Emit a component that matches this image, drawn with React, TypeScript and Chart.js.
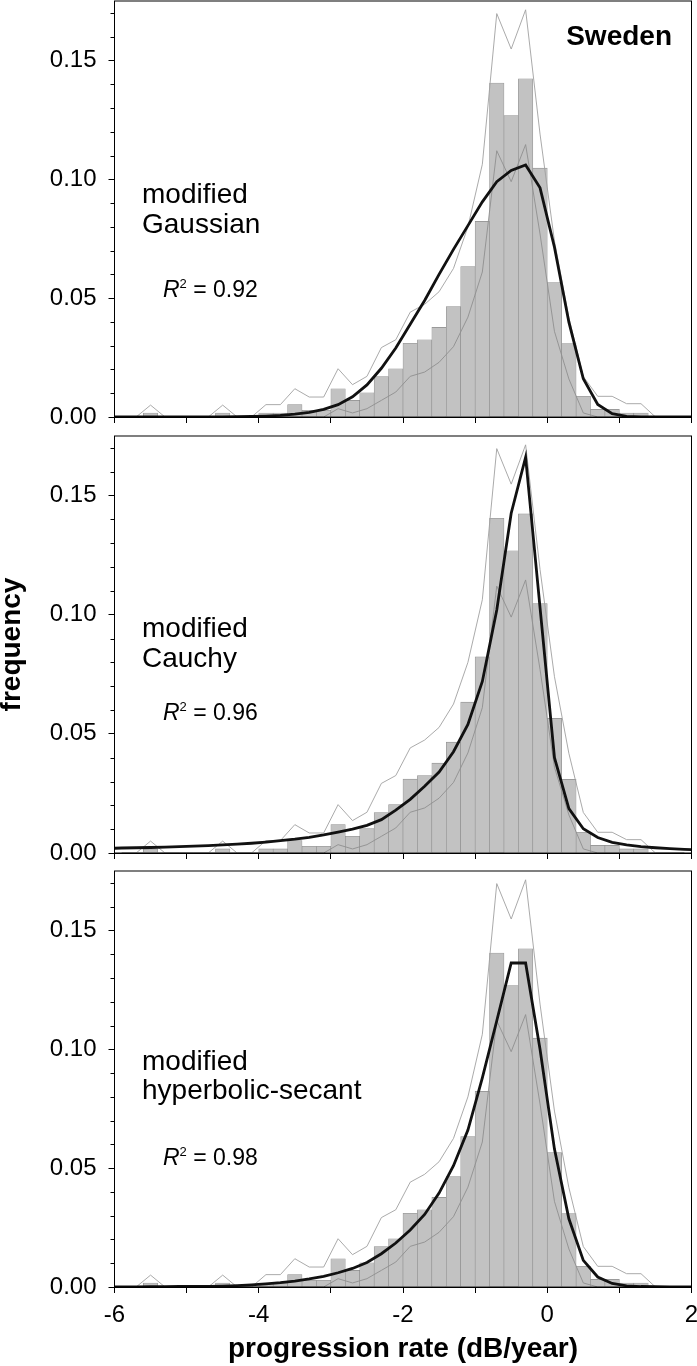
import React, { useEffect, useRef } from 'react';
import { Chart, registerables } from 'chart.js';

Chart.register(...registerables);

// ---------- data ----------
const binCenters = [
  -5.9, -5.7, -5.5, -5.3, -5.1, -4.9, -4.7, -4.5, -4.3, -4.1,
  -3.9, -3.7, -3.5, -3.3, -3.1, -2.9, -2.7, -2.5, -2.3, -2.1,
  -1.9, -1.7, -1.5, -1.3, -1.1, -0.9, -0.7, -0.5, -0.3, -0.1,
  0.1, 0.3, 0.5, 0.7, 0.9, 1.1, 1.3, 1.5, 1.7, 1.9,
];

const frequency = [
  0, 0, 0.0017, 0, 0, 0, 0, 0.0017, 0, 0,
  0.0017, 0.0017, 0.0052, 0.0028, 0.0028, 0.0119, 0.007, 0.0102, 0.017, 0.0203,
  0.031, 0.0325, 0.0377, 0.0465, 0.0633, 0.0823, 0.1405, 0.1268, 0.1423, 0.1047,
  0.0565, 0.0309, 0.0087, 0.0032, 0.0032, 0.0017, 0.0017, 0, 0, 0,
];

const upperBound = [
  0, 0, 0.005, 0, 0, 0, 0, 0.005, 0, 0,
  0.0052, 0.0052, 0.0119, 0.0084, 0.0084, 0.0203, 0.0136, 0.0171, 0.0292, 0.0325,
  0.0441, 0.0474, 0.0527, 0.0625, 0.08, 0.1063, 0.1697, 0.1548, 0.1713, 0.119,
  0.074, 0.0418, 0.017, 0.0087, 0.0087, 0.0056, 0.0056, 0, 0, 0,
];

const lowerBound = [
  0, 0, 0, 0, 0, 0, 0, 0, 0, 0,
  0, 0, 0, 0, 0, 0.0035, 0.0017, 0.0035, 0.007, 0.0105,
  0.0171, 0.0189, 0.023, 0.0296, 0.042, 0.061, 0.112, 0.099, 0.1146, 0.077,
  0.036, 0.016, 0.0017, 0, 0, 0, 0, 0, 0, 0,
];

const fitX = [
  -6, -5.9, -5.7, -5.5, -5.3, -5.1, -4.9, -4.7, -4.5, -4.3,
  -4.1, -3.9, -3.7, -3.5, -3.3, -3.1, -2.9, -2.7, -2.5, -2.3,
  -2.1, -1.9, -1.7, -1.5, -1.3, -1.1, -0.9, -0.7, -0.5, -0.3,
  -0.1, 0.1, 0.3, 0.5, 0.7, 0.9, 1.1, 1.3, 1.5, 1.7,
  1.9, 2,
];

const fitGaussian = [
  0, 0, 0, 0, 0, 0, 0, 0, 0, 0.0001,
  0.0002, 0.0004, 0.0007, 0.0012, 0.0019, 0.0032, 0.0052, 0.0085, 0.0135, 0.0205,
  0.029, 0.039, 0.049, 0.06, 0.0705, 0.0805, 0.0905, 0.099, 0.1037, 0.106,
  0.0964, 0.0714, 0.0399, 0.0161, 0.0053, 0.0014, 0.0003, 0, 0, 0,
  0, 0,
];

const fitCauchy = [
  0.002, 0.0021, 0.0022, 0.0023, 0.0025, 0.0027, 0.0029, 0.0031, 0.0034, 0.0037,
  0.0041, 0.0046, 0.0052, 0.0058, 0.0066, 0.0076, 0.0088, 0.01, 0.0116, 0.014,
  0.018, 0.0225, 0.028, 0.034, 0.0425, 0.054, 0.072, 0.102, 0.1426, 0.1661,
  0.103, 0.04, 0.0186, 0.0102, 0.0065, 0.0045, 0.0034, 0.0027, 0.0022, 0.0018,
  0.0015, 0.0014,
];

const fitHypSecant = [
  0, 0, 0, 0.0001, 0.0001, 0.0002, 0.0002, 0.0003, 0.0004, 0.0006,
  0.0009, 0.0013, 0.0018, 0.0025, 0.0034, 0.0045, 0.006, 0.0078, 0.0103, 0.014,
  0.0185, 0.024, 0.0305, 0.0395, 0.051, 0.066, 0.088, 0.112, 0.1363, 0.1363,
  0.1, 0.058, 0.0287, 0.0112, 0.0042, 0.0015, 0.0005, 0.0002, 0.0001, 0,
  0, 0,
];

const modelNames = [
  ['modified', 'Gaussian'],
  ['modified', 'Cauchy'],
  ['modified', 'hyperbolic-secant'],
];
const rSquared = ['0.92', '0.96', '0.98'];
const countryLabel = 'Sweden';
const yAxisTitle = 'frequency';
const xAxisTitle = 'progression rate (dB/year)';

// ---------- styling / layout ----------
const FONT = '"Liberation Sans", Arial, Helvetica, sans-serif';
const PAGE_W = 697;

type Seg = { text: string; font: string; dy?: number };
type Label = { x: number; y: number; segs: Seg[]; align?: 'left' | 'right' };

const panels = [
  { top: 0, height: 430, areaTop: 1, areaBottom: 417, fit: fitGaussian, textY: [203, 233, 297], sweden: true, xLabels: false, yTitle: false },
  { top: 430, height: 435, areaTop: 436, areaBottom: 853, fit: fitCauchy, textY: [637, 667, 720], sweden: false, xLabels: false, yTitle: true },
  { top: 865, height: 501, areaTop: 871, areaBottom: 1287, fit: fitHypSecant, textY: [1070, 1099, 1165], sweden: false, xLabels: true, yTitle: false },
];

function decorPlugin(labels: Label[]) {
  return {
    id: 'panelDecor',
    afterDraw(chart: any) {
      const { ctx, chartArea } = chart;
      const ys = chart.scales.y;
      ctx.save();
      // minor y ticks
      ctx.strokeStyle = '#000';
      ctx.lineWidth = 1;
      for (let i = 1; i <= 17; i++) {
        if (i % 5 === 0) continue;
        const py = Math.round(ys.getPixelForValue(i / 100)) + 0.5;
        ctx.beginPath();
        ctx.moveTo(chartArea.left - 4, py);
        ctx.lineTo(chartArea.left, py);
        ctx.stroke();
      }
      // frame
      ctx.strokeRect(chartArea.left, chartArea.top, chartArea.right - chartArea.left, chartArea.bottom - chartArea.top);
      // texts
      ctx.fillStyle = '#000';
      ctx.textBaseline = 'alphabetic';
      ctx.textAlign = 'left';
      for (const lab of labels) {
        let total = 0;
        for (const s of lab.segs) {
          ctx.font = s.font;
          total += ctx.measureText(s.text).width;
        }
        let cx = lab.align === 'right' ? lab.x - total : lab.x;
        for (const s of lab.segs) {
          ctx.font = s.font;
          ctx.fillText(s.text, cx, lab.y + (s.dy || 0));
          cx += ctx.measureText(s.text).width;
        }
      }
      ctx.restore();
    },
  };
}

function buildChart(canvas: HTMLCanvasElement, idx: number) {
  const p = panels[idx];
  const nameFont = `28px ${FONT}`;
  const labels: Label[] = [
    { x: 142, y: p.textY[0] - p.top, segs: [{ text: modelNames[idx][0], font: nameFont }] },
    { x: 142, y: p.textY[1] - p.top, segs: [{ text: modelNames[idx][1], font: nameFont }] },
    {
      x: 163,
      y: p.textY[2] - p.top,
      segs: [
        { text: 'R', font: `italic 23px ${FONT}` },
        { text: '2', font: `13px ${FONT}`, dy: -9 },
        { text: ' = ' + rSquared[idx], font: `23px ${FONT}` },
      ],
    },
  ];
  if (p.sweden) {
    labels.push({ x: 672, y: 45 - p.top, align: 'right', segs: [{ text: countryLabel, font: `bold 28px ${FONT}` }] });
  }

  const xHeight = p.top + p.height - p.areaBottom;
  const tickFont = { family: FONT, size: 24 };

  return new Chart(canvas, {
    type: 'bar',
    data: {
      datasets: [
        {
          type: 'line',
          data: fitX.map((x, i) => ({ x, y: p.fit[i] })),
          borderColor: '#111111',
          borderWidth: 2.8,
          pointRadius: 0,
          tension: 0,
          fill: false,
          order: 1,
        },
        {
          type: 'line',
          data: binCenters.map((x, i) => ({ x, y: upperBound[i] })),
          borderColor: '#a0a0a0',
          borderWidth: 0.9,
          pointRadius: 0,
          tension: 0,
          fill: false,
          order: 2,
        },
        {
          type: 'line',
          data: binCenters.map((x, i) => ({ x, y: lowerBound[i] })),
          borderColor: '#8e8e8e',
          borderWidth: 0.9,
          pointRadius: 0,
          tension: 0,
          fill: false,
          order: 2,
        },
        {
          type: 'bar',
          data: binCenters.map((x, i) => ({ x, y: frequency[i] })),
          backgroundColor: '#c2c2c2',
          borderColor: '#8c8c8c',
          borderWidth: 0.6,
          barPercentage: 1,
          categoryPercentage: 1,
          order: 3,
        },
      ] as any,
    },
    options: {
      responsive: false,
      maintainAspectRatio: false,
      animation: false,
      events: [],
      devicePixelRatio: 1,
      layout: { padding: { left: 0, right: PAGE_W - 691.5, top: p.areaTop - p.top, bottom: 0 } },
      plugins: { legend: { display: false }, tooltip: { enabled: false }, title: { display: false } },
      scales: {
        x: {
          type: 'linear',
          min: -6,
          max: 2,
          offset: false,
          afterFit: (s: any) => {
            s.height = xHeight;
            s.paddingLeft = 0;
            s.paddingRight = 0;
          },
          ticks: {
            stepSize: 1,
            autoSkip: false,
            maxRotation: 0,
            minRotation: 0,
            padding: 8,
            color: '#000',
            font: tickFont,
            callback: (v: any) => (p.xLabels && Number(v) % 2 === 0 ? String(v) : ''),
          },
          grid: { drawOnChartArea: false, drawTicks: true, tickLength: 6, color: '#000', tickColor: '#000', offset: false },
          border: { display: true, color: '#000', width: 1 },
          title: p.xLabels
            ? { display: true, text: xAxisTitle, color: '#000', font: { family: FONT, size: 28, weight: 'bold' }, padding: { top: 0, bottom: 0 } }
            : { display: false },
        },
        y: {
          type: 'linear',
          min: 0,
          max: 0.175,
          afterFit: (s: any) => {
            s.width = 114.5;
            s.paddingTop = 0;
            s.paddingBottom = 0;
          },
          ticks: {
            stepSize: 0.05,
            includeBounds: false,
            padding: 12,
            color: '#000',
            font: tickFont,
            callback: (v: any) => Number(v).toFixed(2),
          },
          grid: { drawOnChartArea: false, drawTicks: true, tickLength: 6, color: '#000', tickColor: '#000' },
          border: { display: true, color: '#000', width: 1 },
          title: p.yTitle
            ? { display: true, text: yAxisTitle, color: '#000', font: { family: FONT, size: 28, weight: 'bold', lineHeight: 0.9 }, padding: 0 }
            : { display: false },
        },
      },
    } as any,
    plugins: [decorPlugin(labels)],
  });
}

export default function App() {
  const r0 = useRef<HTMLCanvasElement>(null);
  const r1 = useRef<HTMLCanvasElement>(null);
  const r2 = useRef<HTMLCanvasElement>(null);

  useEffect(() => {
    const refs = [r0, r1, r2];
    const charts = refs.map((r, i) => buildChart(r.current as HTMLCanvasElement, i));
    return () => charts.forEach((c) => c.destroy());
  }, []);

  const refs = [r0, r1, r2];
  return (
    <div style={{ position: 'absolute', left: 0, top: 0, width: PAGE_W, height: 1366, background: '#fff' }}>
      {panels.map((p, i) => (
        <canvas
          key={i}
          ref={refs[i]}
          width={PAGE_W}
          height={p.height}
          style={{ position: 'absolute', left: 0, top: p.top, width: PAGE_W, height: p.height, display: 'block' }}
        />
      ))}
    </div>
  );
}
